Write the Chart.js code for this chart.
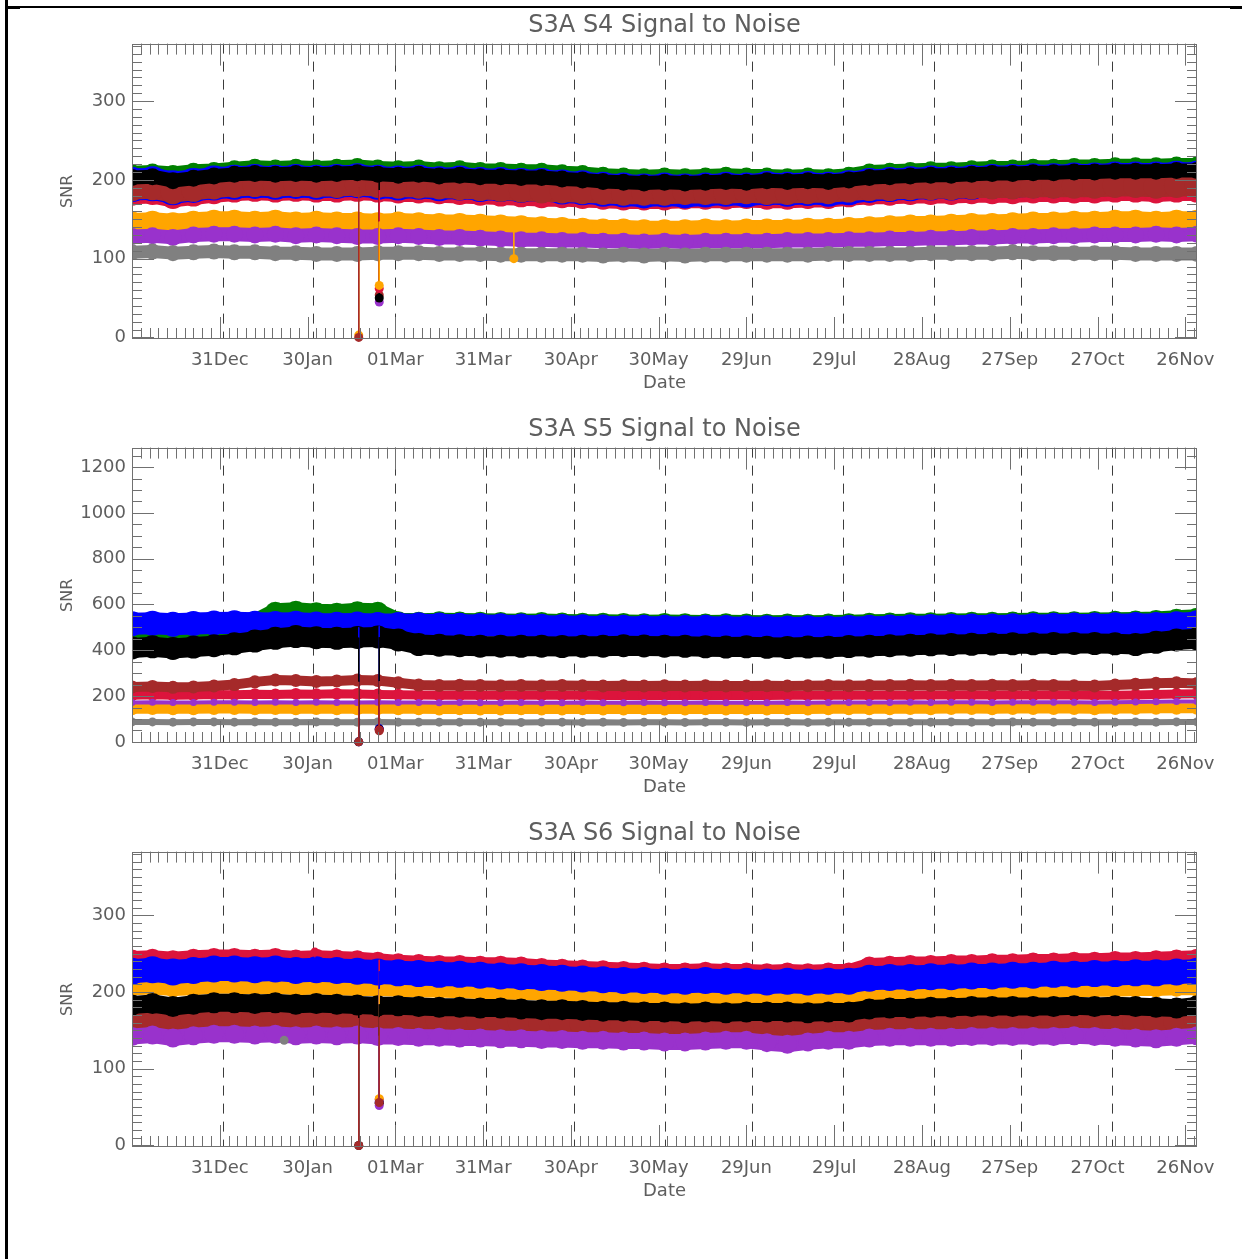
<!DOCTYPE html>
<html>
<head>
<meta charset="utf-8">
<title>S3A Signal to Noise</title>
<script src="https://cdn.jsdelivr.net/npm/chart.js@4.4.0/dist/chart.umd.min.js"></script>
<style>
  body { margin: 0; background: #fff; width: 1242px; height: 1259px; position: relative; overflow: hidden; }
  .panel { position: absolute; left: 0; width: 1242px; height: 404px; }
  #p1 { top: 0; }
  #p2 { top: 404px; }
  #p3 { top: 808px; }
  .rule { position: absolute; background: #000; }
</style>
</head>
<body>
<div class="rule" style="left:5px;top:6px;width:1226px;height:1.5px"></div>
<div class="rule" style="left:5px;top:0;width:3px;height:1259px"></div>
<div class="rule" style="left:7px;top:7px;width:13px;height:2px"></div>
<div class="rule" style="left:1230px;top:6px;width:12px;height:2.5px"></div>

<div class="panel" id="p1"><canvas id="c1" width="1242" height="404"></canvas></div>
<div class="panel" id="p2"><canvas id="c2" width="1242" height="404"></canvas></div>
<div class="panel" id="p3"><canvas id="c3" width="1242" height="404"></canvas></div>

<script>
// day 0 = 01 Dec 2016, axis runs to 30 Nov 2017
const dayMax = 364;
const tickDays = [30, 60, 90, 120, 150, 180, 210, 240, 270, 300, 330, 360];
const tickLabels = ['31Dec', '30Jan', '01Mar', '31Mar', '30Apr', '30May', '29Jun', '29Jul', '28Aug', '27Sep', '27Oct', '26Nov'];
const monthStarts = [31, 62, 90, 121, 151, 182, 212, 243, 274, 304, 335];

// weekly samples
const days = [0, 7, 14, 21, 28, 35, 42, 49, 56, 63, 70, 77, 84, 91, 98, 105, 112, 119, 126, 133,
  140, 147, 154, 161, 168, 175, 182, 189, 196, 203, 210, 217, 224, 231, 238, 245, 252, 259, 266, 273,
  280, 287, 294, 301, 308, 315, 322, 329, 336, 343, 350, 357, 364];

// ---- S4 ----
const s4Green = [209, 210, 208, 211, 212,
  214, 216, 215, 216, 215, 216, 217, 215,
  214, 215, 213, 214, 212,
  212, 211, 211, 209, 208,
  206, 205, 204, 205, 204, 205, 206, 205,
  205, 204, 205, 204, 206,
  210, 211, 212, 213, 213, 214, 215, 215, 216,
  216, 217, 217, 218, 218, 218, 219, 219];
const s4Black = [203, 204, 199, 202, 205,
  207, 208, 207, 208, 207, 208, 209, 207,
  206, 207, 205, 206, 204,
  204, 203, 203, 201, 200,
  198, 197, 196, 197, 196, 197, 198, 197,
  199, 198, 199, 198, 200,
  203, 204, 205, 206, 206, 207, 208, 208, 209,
  209, 210, 210, 211, 211, 211, 212, 212];
const s4Blue = [194, 195, 190, 193, 196,
  197, 198, 197, 198, 197, 198, 199, 197,
  196, 197, 195, 196, 194,
  194, 193, 193, 191, 190,
  188, 187, 186, 187, 186, 187, 188, 187,
  189, 188, 189, 188, 190,
  193, 194, 195, 196, 196, 197, 198, 198, 199,
  199, 200, 200, 201, 201, 201, 202, 202];
const s4Brown = [189, 190, 185, 188, 191,
  193, 194, 193, 194, 193, 193, 194, 193,
  192, 192, 191, 190, 189,
  188, 187, 186, 186, 185,
  184, 183, 183, 183, 184, 184, 184, 185,
  184, 184, 185, 185, 187,
  189, 189, 190, 190, 190, 191, 191, 191, 192,
  192, 192, 192, 193, 193, 192, 193, 193];
const s4Red = [183, 184, 179, 182, 185,
  187, 188, 187, 188, 187, 187, 188, 187,
  186, 186, 185, 184, 183,
  182, 181, 180, 180, 179,
  178, 177, 177, 177, 178, 178, 178, 179,
  178, 178, 179, 179, 181,
  183, 183, 184, 184, 184, 185, 185, 185, 186,
  186, 186, 186, 187, 187, 186, 187, 187];
const s4Orange = [146, 147, 145, 147, 148,
  148, 147, 148, 146, 147, 146, 146, 145,
  146, 145, 144, 144, 143,
  142, 141, 140, 139, 138,
  137, 137, 136, 136, 136, 137, 136, 137,
  137, 137, 138, 138, 139,
  140, 141, 142, 142, 143, 144, 144, 145, 146,
  146, 147, 147, 148, 148, 147, 148, 148];
const s4Purple = [128, 129, 127, 130, 131,
  131, 130, 131, 129, 130, 129, 128, 128,
  129, 128, 127, 127, 126,
  125, 124, 124, 123, 123,
  122, 122, 121, 122, 121, 122, 122, 122,
  122, 123, 123, 123, 124,
  124, 125, 125, 126, 126, 127, 127, 128, 128,
  129, 129, 130, 130, 130, 131, 130, 131];
const s4Grey = [108, 109, 107, 108, 109,
  108, 108, 107, 107, 106, 106, 106, 107,
  107, 107, 106, 106, 106,
  105, 105, 105, 105, 105,
  104, 105, 104, 105, 104, 105, 105, 105,
  105, 105, 105, 106, 106,
  106, 106, 106, 107, 107, 107, 107, 108, 107,
  107, 107, 107, 107, 106, 106, 106, 106];
// dropouts: series, day, band level, dropped value
const s4DropSeries = ['orange', 'brown', 'purple', 'brown', 'black', 'red', 'orange', 'orange'];
const s4DropDays = [77.5, 77.5, 84.5, 84.5, 84.5, 84.5, 84.5, 130.5];
const s4DropFrom = [146, 190, 130, 193, 207, 187, 147, 140];
const s4DropTo = [3, 0, 45, 54, 50, 62, 66, 100];

// ---- S5 ----
const s5Green = [478, 480, 476, 479, 482,
  484, 520, 566, 570, 564, 562, 568, 566,
  525, 522, 524, 523, 522,
  521, 520, 521, 519, 518,
  518, 517, 516, 517, 516, 515, 516, 515,
  514, 515, 514, 515, 516,
  518, 519, 520, 520, 521, 522, 522, 523, 524,
  524, 525, 526, 527, 528, 530, 535, 540];
const s5Blue = [516, 518, 514, 517, 519,
  520, 518, 517, 518, 515, 514, 515, 513,
  512, 511, 510, 509, 508,
  507, 506, 505, 504, 503,
  502, 501, 500, 500, 499, 500, 499, 498,
  498, 497, 498, 497, 499,
  501, 502, 503, 504, 505, 506, 506, 507, 508,
  509, 510, 510, 511, 512, 513, 516, 520];
const s5Black = [410, 415, 408, 414, 420,
  428, 440, 452, 460, 455, 452, 456, 458,
  445, 425, 422, 420, 418,
  418, 417, 418, 416, 417,
  418, 420, 419, 418, 417, 415, 414, 415,
  413, 412, 414, 413, 416,
  418, 420, 422, 424, 425, 426, 427, 428, 428,
  429, 430, 429, 428, 425, 435, 445, 450];
const s5Brown = [240, 242, 238, 240, 244,
  250, 262, 270, 268, 264, 266, 270, 268,
  258, 248, 246, 247, 246,
  245, 246, 245, 246, 245,
  244, 245, 244, 245, 244, 245, 244, 244,
  245, 244, 245, 246, 245,
  246, 246, 247, 246, 247, 246, 247, 246, 247,
  246, 245, 244, 248, 252, 256, 258, 255];
const s5Red = [204, 206, 203, 205, 207,
  206, 208, 207, 209, 208, 210, 209, 207,
  206, 205, 204, 205, 204,
  203, 204, 203, 204, 203,
  202, 203, 202, 203, 202, 203, 202, 203,
  202, 203, 204, 203, 204,
  204, 205, 204, 205, 205, 206, 205, 206, 205,
  206, 205, 204, 203, 205, 207, 209, 210];
const s5Purple = [172, 173, 172, 172, 173,
  173, 172, 173, 172, 173, 172, 172, 173,
  172, 172, 171, 172, 171,
  171, 172, 171, 171, 172,
  171, 171, 172, 171, 171, 172, 171, 171,
  171, 172, 171, 172, 172,
  172, 172, 173, 172, 173, 173, 172, 173, 173,
  173, 173, 172, 173, 174, 175, 176, 176];
const s5Orange = [145, 146, 145, 145, 146,
  146, 145, 146, 145, 146, 145, 145, 146,
  145, 145, 144, 145, 144,
  144, 145, 144, 144, 145,
  144, 144, 145, 144, 144, 145, 144, 144,
  144, 145, 144, 145, 145,
  145, 145, 146, 145, 146, 146, 145, 146, 146,
  146, 146, 145, 146, 146, 147, 147, 147];
const s5Grey = [87, 87, 86, 87, 87,
  86, 87, 86, 86, 87, 86, 86, 87,
  86, 86, 86, 86, 86,
  86, 85, 86, 86, 85,
  86, 85, 86, 86, 85, 86, 86, 85,
  86, 86, 85, 86, 86,
  86, 86, 86, 86, 87, 86, 86, 87, 86,
  86, 87, 86, 86, 87, 86, 87, 87];
const s5DropSeries = ['blue', 'black', 'brown', 'blue', 'black', 'red', 'brown'];
const s5DropDays = [77.5, 77.5, 77.5, 84.5, 84.5, 84.5, 84.5];
const s5DropFrom = [500, 455, 262, 505, 457, 208, 265];
const s5DropTo = [0, 0, 0, 58, 55, 52, 48];

// ---- S6 ----
const s6Red = [243, 244, 242, 244, 245,
  245, 244, 245, 243, 244, 243, 242, 240,
  238, 237, 236, 236, 235,
  235, 234, 232, 231, 230,
  229, 228, 227, 226, 226, 227, 226, 226,
  225, 226, 225, 226, 226,
  234, 235, 236, 236, 237, 237, 238, 238, 239,
  239, 240, 240, 241, 241, 242, 243, 244];
const s6Blue = [227, 229, 226, 228, 230,
  230, 229, 230, 228, 229, 228, 227, 226,
  225, 224, 223, 223, 222,
  221, 220, 219, 218, 217,
  216, 215, 215, 214, 214, 215, 214, 214,
  213, 214, 213, 214, 214,
  218, 219, 219, 220, 220, 221, 221, 222, 222,
  223, 223, 224, 224, 225, 225, 226, 227];
const s6Orange = [205, 206, 204, 205, 207,
  207, 206, 207, 205, 206, 205, 204, 204,
  203, 202, 202, 201, 200,
  199, 199, 198, 197, 196,
  195, 195, 194, 194, 193, 194, 193, 193,
  193, 193, 192, 193, 193,
  198, 198, 199, 199, 200, 200, 200, 201, 201,
  202, 202, 203, 203, 204, 204, 205, 205];
const s6Black = [183, 185, 181, 184, 186,
  186, 185, 186, 184, 185, 184, 183, 182,
  182, 181, 180, 180, 179,
  179, 178, 177, 177, 176,
  175, 175, 174, 174, 173, 174, 173, 174,
  174, 174, 173, 174, 174,
  178, 179, 179, 180, 180, 181, 181, 181, 181,
  181, 182, 181, 182, 181, 180, 179, 182];
const s6Brown = [165, 167, 163, 166, 168,
  169, 168, 169, 167, 168, 167, 167, 166,
  166, 165, 164, 164, 163,
  162, 162, 161, 160, 160,
  159, 159, 158, 158, 157, 158, 157, 158,
  158, 158, 157, 158, 158,
  161, 162, 162, 163, 163, 163, 164, 164, 164,
  164, 165, 164, 164, 163, 162, 163, 164];
const s6Purple = [142, 144, 140, 143, 145,
  145, 144, 145, 143, 144, 143, 144, 142,
  142, 141, 141, 140, 140,
  139, 139, 138, 138, 137,
  137, 136, 136, 135, 135, 136, 137, 137,
  134, 132, 135, 137, 137,
  140, 141, 141, 141, 141, 142, 142, 142, 142,
  142, 143, 142, 141, 140, 139, 141, 143];
const s6DropSeries = ['grey', 'red', 'black', 'brown', 'red', 'blue', 'orange', 'black', 'purple', 'brown'];
const s6DropDays = [52, 62.5, 77.5, 77.5, 84.5, 84.5, 84.5, 84.5, 84.5, 84.5];
const s6DropFrom = [137, 245, 184, 166, 242, 227, 204, 184, 143, 167];
const s6DropTo = [137, 252, 0, 0, 60, 57, 61, 55, 52, 56];

const colours = {
  green: '#008000', blue: '#0000ff', black: '#000000', brown: '#a52a2a',
  red: '#dc143c', orange: '#ffa500', purple: '#9932cc', grey: '#808080'
};

Chart.defaults.font.family = '"DejaVu Sans", "Liberation Sans", sans-serif';
Chart.defaults.color = '#5e5e5e';

// box, inward ticks on all four sides, dashed month lines
const frameTicks = {
  id: 'frameTicks',
  beforeDatasetsDraw(chart) {
    const { ctx, chartArea: a, scales: { x } } = chart;
    ctx.save();
    ctx.strokeStyle = '#3c3c3c';
    ctx.lineWidth = 1;
    ctx.setLineDash([10, 8]);
    ctx.beginPath();
    monthStarts.forEach(d => {
      const px = Math.round(x.getPixelForValue(d)) + 0.5;
      ctx.moveTo(px, a.top);
      ctx.lineTo(px, a.bottom);
    });
    ctx.stroke();
    ctx.restore();
  },
  afterDatasetsDraw(chart, args, opts) {
    const { ctx, chartArea: a, scales: { x, y } } = chart;
    ctx.save();
    ctx.strokeStyle = '#707070';
    ctx.lineWidth = 1;
    ctx.beginPath();
    for (let d = 3; d < dayMax; d += 3) {
      const px = Math.round(x.getPixelForValue(d)) + 0.5;
      const len = d % 30 === 0 ? 22 : 11;
      ctx.moveTo(px, a.bottom); ctx.lineTo(px, a.bottom - len);
      ctx.moveTo(px, a.top); ctx.lineTo(px, a.top + len);
    }
    for (let v = 0; v <= y.max; v += opts.minor) {
      const py = Math.round(y.getPixelForValue(v)) + 0.5;
      const len = v % opts.major === 0 ? 22 : 10;
      ctx.moveTo(a.left, py); ctx.lineTo(a.left + len, py);
      ctx.moveTo(a.right, py); ctx.lineTo(a.right - len, py);
    }
    ctx.stroke();
    ctx.strokeRect(Math.round(a.left) + 0.5, Math.round(a.top) + 0.5,
      Math.round(a.width) - 1, Math.round(a.height) - 1);
    ctx.restore();
  }
};

function band(key, values, width) {
  return {
    data: days.map((d, i) => ({ x: d, y: values[i] })),
    borderColor: colours[key],
    backgroundColor: colours[key],
    borderWidth: width,
    pointRadius: width / 2 + 1.5,
    pointBorderWidth: 0,
    pointHoverRadius: 0,
    borderJoinStyle: 'round',
    borderCapStyle: 'round',
    tension: 0,
    clip: 0
  };
}

function drops(series, dayList, from, to) {
  return series.map((key, i) => ({
    data: [{ x: dayList[i], y: from[i] }, { x: dayList[i], y: to[i] }],
    borderColor: colours[key],
    backgroundColor: colours[key],
    borderWidth: 1,
    pointRadius: [0, 4.5],
    pointBorderWidth: 0,
    pointHoverRadius: 0,
    clip: { left: 0, top: 0, right: 0, bottom: 5 }
  }));
}

function makePanel(id, title, yMin, yMax, yStep, yMinor, bands, dropSets) {
  // bands listed bottom to top; chart.js paints index 0 last
  const datasets = bands.map(b => band(b[0], b[1], b[2])).concat(dropSets).reverse();
  const yLabels = [];
  for (let v = 0; v <= yMax; v += yStep) yLabels.push(v);

  return new Chart(document.getElementById(id), {
    type: 'line',
    data: { datasets },
    plugins: [frameTicks],
    options: {
      responsive: false,
      animation: false,
      events: [],
      layout: { padding: { left: 0, right: 45, top: 0, bottom: 9 } },
      plugins: {
        legend: { display: false },
        tooltip: { enabled: false },
        title: {
          display: true, text: title, fullSize: false,
          font: { size: 24, weight: 'normal' },
          padding: { top: 11, bottom: 3.8 }
        },
        frameTicks: { major: yStep, minor: yMinor }
      },
      scales: {
        x: {
          type: 'linear', min: 0, max: dayMax,
          afterBuildTicks: s => { s.ticks = tickDays.map(v => ({ value: v })); },
          afterFit: s => { s.height = 56; },
          grid: { display: false, drawTicks: false },
          border: { display: false },
          ticks: {
            autoSkip: false, maxRotation: 0, minRotation: 0, padding: 11,
            font: { size: 18 },
            callback: (v, i) => tickLabels[i]
          },
          title: { display: true, text: 'Date', font: { size: 18 }, padding: { top: 0, bottom: 1 } }
        },
        y: {
          type: 'linear', min: yMin, max: yMax,
          afterBuildTicks: s => { s.ticks = yLabels.map(v => ({ value: v })); },
          afterFit: s => { s.width = 132; },
          grid: { display: false, drawTicks: false },
          border: { display: false },
          ticks: { padding: 6, font: { size: 18 }, callback: v => String(v) },
          title: { display: true, text: 'SNR', font: { size: 16 }, padding: { top: 58, bottom: 0 } }
        }
      }
    }
  });
}

makePanel('c1', 'S3A S4 Signal to Noise', -2, 373, 100, 10, [
  ['green', s4Green, 14],
  ['red', s4Red, 22],
  ['orange', s4Orange, 19],
  ['blue', s4Blue, 32],
  ['brown', s4Brown, 22],
  ['black', s4Black, 14],
  ['purple', s4Purple, 14],
  ['grey', s4Grey, 13]
], drops(s4DropSeries, s4DropDays, s4DropFrom, s4DropTo));

makePanel('c2', 'S3A S5 Signal to Noise', -5, 1285, 200, 50, [
  ['green', s5Green, 18],
  ['red', s5Red, 9],
  ['orange', s5Orange, 10],
  ['blue', s5Blue, 22],
  ['brown', s5Brown, 10],
  ['black', s5Black, 20],
  ['purple', s5Purple, 4],
  ['grey', s5Grey, 6]
], drops(s5DropSeries, s5DropDays, s5DropFrom, s5DropTo));

makePanel('c3', 'S3A S6 Signal to Noise', -2, 383, 100, 10, [
  ['red', s6Red, 16],
  ['orange', s6Orange, 14],
  ['blue', s6Blue, 24],
  ['brown', s6Brown, 24],
  ['black', s6Black, 18],
  ['purple', s6Purple, 16]
], drops(s6DropSeries, s6DropDays, s6DropFrom, s6DropTo));
</script>
</body>
</html>
